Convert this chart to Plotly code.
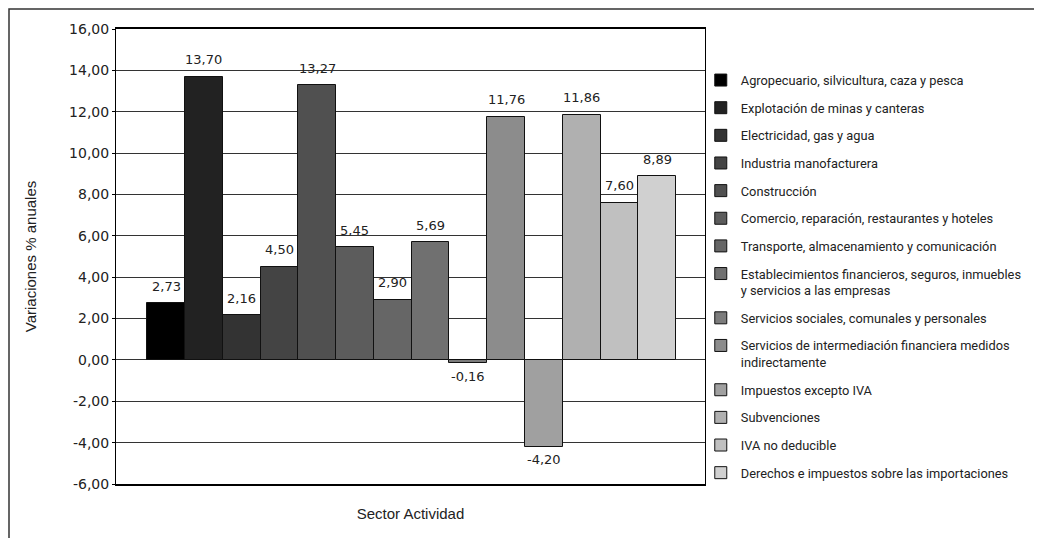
import plotly.graph_objects as go

sectors = [
    "Agropecuario, silvicultura, caza y pesca",
    "Explotación de minas y canteras",
    "Electricidad, gas y agua",
    "Industria manofacturera",
    "Construcción",
    "Comercio, reparación, restaurantes y hoteles",
    "Transporte, almacenamiento y comunicación",
    "Establecimientos financieros, seguros, inmuebles<br>y servicios a las empresas",
    "Servicios sociales, comunales y personales",
    "Servicios de intermediación financiera medidos<br>indirectamente",
    "Impuestos excepto IVA",
    "Subvenciones",
    "IVA no deducible",
    "Derechos e impuestos sobre las importaciones",
]
values = [2.73, 13.70, 2.16, 4.50, 13.27, 5.45, 2.90, 5.69, -0.16, 11.76, -4.20, 11.86, 7.60, 8.89]
colors = ["#000000", "#222222", "#333333", "#444444", "#505050", "#5c5c5c", "#666666",
          "#707070", "#7c7c7c", "#8c8c8c", "#a0a0a0", "#b0b0b0", "#c0c0c0", "#d0d0d0"]
y_ticks = [-6, -4, -2, 0, 2, 4, 6, 8, 10, 12, 14, 16]
y_tick_labels = [f"{t:.2f}".replace(".", ",") for t in y_ticks]

LEG_FONT = "Roboto, Liberation Sans, Arial, sans-serif"
NUM_FONT = "DejaVu Sans, Liberation Sans, sans-serif"
TITLE_FONT = "Liberation Sans, Arial, sans-serif"

cats = [f"s{i}" for i in range(len(sectors))]

fig = go.Figure()
for i, (name, v, c) in enumerate(zip(sectors, values, colors)):
    fig.add_trace(go.Bar(
        x=[cats[i]], y=[v], name=name, legendgroup=f"g{i}",
        marker=dict(color=c, line=dict(color="#111111", width=1)),
        hoverinfo="name+y",
    ))

for i, v in enumerate(values):
    fig.add_annotation(
        x=cats[i], y=v, text=f"{v:.2f}".replace(".", ","),
        showarrow=False, yanchor="middle", xanchor="center",
        yshift=17 if v >= 0 else -13,
        font=dict(family=NUM_FONT, size=13, color="#222222"),
    )

# figure frame
fig.add_shape(type="rect", xref="paper", yref="paper",
              x0=-107 / 589, x1=1.5637, y0=-0.14, y1=1 + 20 / 455,
              line=dict(color="#333333", width=1.5), layer="below")

fig.update_layout(
    width=1034, height=530,
    margin=dict(l=108, r=337, t=21, b=54, autoexpand=False),
    paper_bgcolor="white", plot_bgcolor="white",
    barmode="overlay", bargap=0,
    showlegend=True,
    legend=dict(
        xref="container", yref="container", x=0.670, y=0.892,
        xanchor="left", yanchor="top", maxheight=1,
        font=dict(family=LEG_FONT, size=12.8, color="#222222"),
        tracegroupgap=8, valign="top", traceorder="grouped",
        bgcolor="rgba(0,0,0,0)",
    ),
    xaxis=dict(
        type="category", categoryorder="array", categoryarray=cats,
        range=[-1.325, 14.265], showticklabels=False, ticks="",
        showgrid=False, showline=True, linecolor="#000000", linewidth=2, mirror=True,
        automargin=False,
        title=dict(text="Sector Actividad", standoff=23,
                   font=dict(family=TITLE_FONT, size=15, color="#222222")),
        fixedrange=True,
    ),
    yaxis=dict(
        range=[-6, 16], tickvals=y_ticks, ticktext=y_tick_labels,
        ticks="outside", ticklen=3, tickcolor="#000000",
        tickfont=dict(family=NUM_FONT, size=14, color="#222222"),
        showgrid=True, gridcolor="#333333", gridwidth=1,
        zeroline=False, automargin=False,
        showline=True, linecolor="#000000", linewidth=1, mirror=True,
        title=dict(text="Variaciones % anuales", standoff=28,
                   font=dict(family=TITLE_FONT, size=15, color="#222222")),
    ),
)

fig.write_html("out.html")
